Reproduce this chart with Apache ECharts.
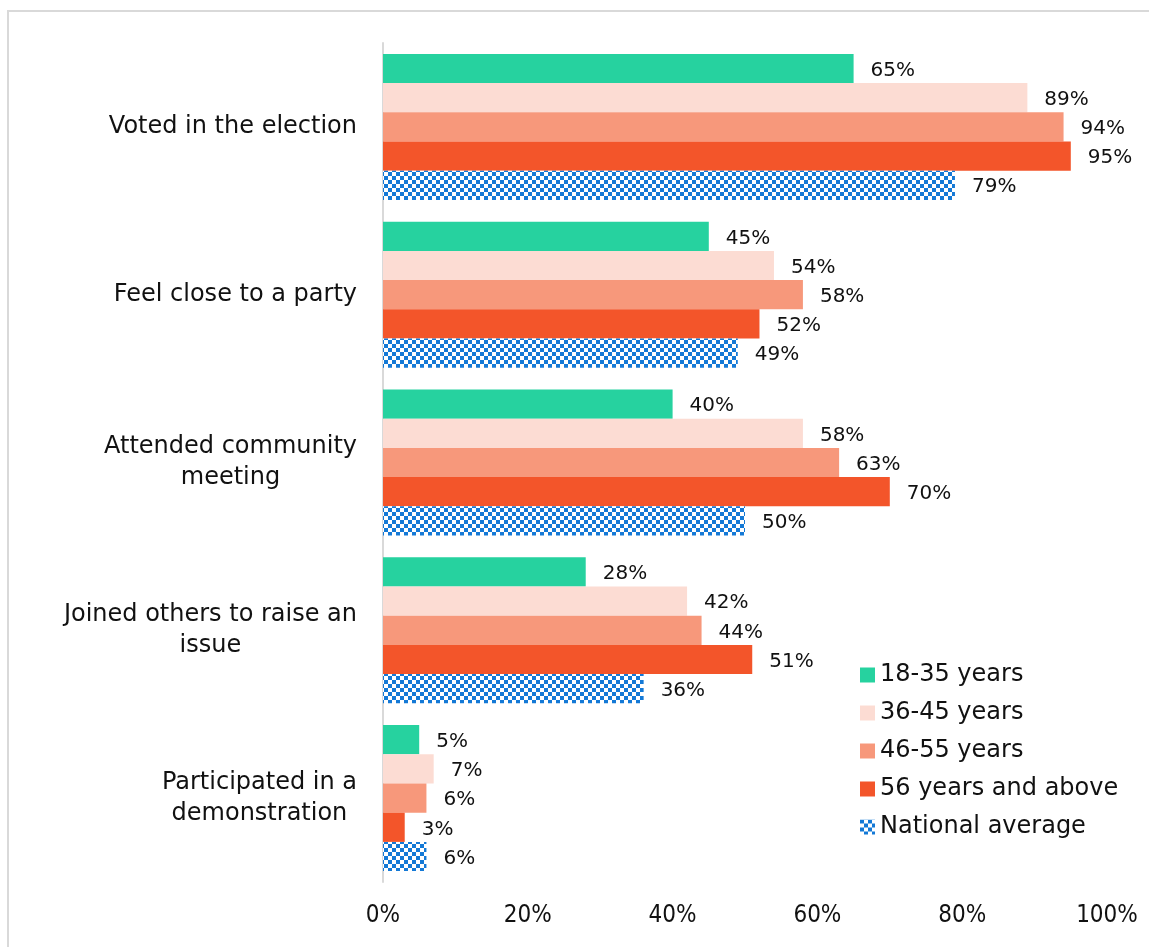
<!DOCTYPE html>
<html>
<head>
<meta charset="utf-8">
<script src="https://cdn.jsdelivr.net/npm/echarts@6/dist/echarts.min.js"></script>
<style>
  html, body { margin: 0; padding: 0; background: #fff; }
  #chart { width: 1149px; height: 947px; }
</style>
</head>
<body>
<div id="chart"></div>
<script>
// Political participation by age group (share of respondents, %)
const categories = [
  'Voted in the election',
  'Feel close to a party',
  'Attended community\nmeeting',
  'Joined others to raise an\nissue',
  'Participated in a\ndemonstration'
];
const seriesNames = ['18-35 years', '36-45 years', '46-55 years', '56 years and above', 'National average'];
const age18to35 = [65, 45, 40, 28, 5];
const age36to45 = [89, 54, 58, 42, 7];
const age46to55 = [94, 58, 63, 44, 6];
const age56plus = [95, 52, 70, 51, 3];
const nationalAvg = [79, 49, 50, 36, 6];
const xTicks = [0, 20, 40, 60, 80, 100];

const FONT = '"DejaVu Sans", sans-serif';
const TICK_FONT = '"Liberation Sans Narrow", "DejaVu Sans Condensed", sans-serif';

// Checkered fill for the national average bars
function checker(size, a, b) {
  const c = document.createElement('canvas');
  c.width = size * 2; c.height = size * 2;
  const g = c.getContext('2d');
  g.fillStyle = b; g.fillRect(0, 0, size * 2, size * 2);
  g.fillStyle = a;
  g.fillRect(0, 0, size, size);
  g.fillRect(size, size, size, size);
  return c;
}
const checkFill = { image: checker(4, '#1479d6', '#ffffff'), repeat: 'repeat' };

const colors = ['#26d29f', '#fcdcd3', '#f7987b', '#f3552a', checkFill];
const values = [age18to35, age36to45, age46to55, age56plus, nationalAvg];

const chart = echarts.init(document.getElementById('chart'), null, { renderer: 'canvas' });

const series = values.map((vals, i) => ({
  name: seriesNames[i],
  type: 'bar',
  data: vals,
  barGap: '0%',
  barCategoryGap: '13%',
  itemStyle: { color: colors[i] },
  label: {
    show: true,
    position: 'right',
    distance: 17,
    offset: [0, 2],
    formatter: p => p.value + '%',
    fontFamily: FONT,
    fontSize: 20,
    color: '#111'
  },
  emphasis: { disabled: true },
  animation: false
}));

chart.setOption({
  animation: false,
  graphic: [{
    type: 'rect',
    shape: { x: 8, y: 11, width: 1160, height: 960 },
    style: { fill: 'none', stroke: '#d9d9d9', lineWidth: 2 },
    silent: true
  }],
  grid: { left: 383, right: 42, top: 43, bottom: 65, containLabel: false },
  legend: {
    orient: 'vertical',
    left: 855,
    top: 658,
    itemWidth: 15,
    itemHeight: 15,
    itemGap: 14,
    icon: 'rect',
    data: seriesNames,
    textStyle: { fontFamily: FONT, fontSize: 24, lineHeight: 24, color: '#111' }
  },
  xAxis: {
    type: 'value',
    min: 0,
    max: 100,
    interval: 20,
    axisLine: { show: false },
    axisTick: { show: false },
    splitLine: { show: false },
    axisLabel: {
      formatter: v => xTicks.includes(v) ? v + '%' : '',
      fontFamily: TICK_FONT,
      fontSize: 24,
      color: '#111',
      margin: 22
    }
  },
  yAxis: {
    type: 'category',
    data: categories,
    inverse: true,
    axisLine: { show: true, lineStyle: { color: '#d9d9d9', width: 2 } },
    axisTick: { show: false },
    axisLabel: {
      fontFamily: FONT,
      fontSize: 24,
      color: '#111',
      margin: 26,
      align: 'right',
      // each line centred inside the right-aligned block
      formatter: v => v.split('\n').map(l => '{c|' + l + '}').join('\n'),
      rich: {
        c: { align: 'center', fontFamily: FONT, fontSize: 24, lineHeight: 31, color: '#111' }
      }
    }
  },
  series: series
});
</script>
</body>
</html>
